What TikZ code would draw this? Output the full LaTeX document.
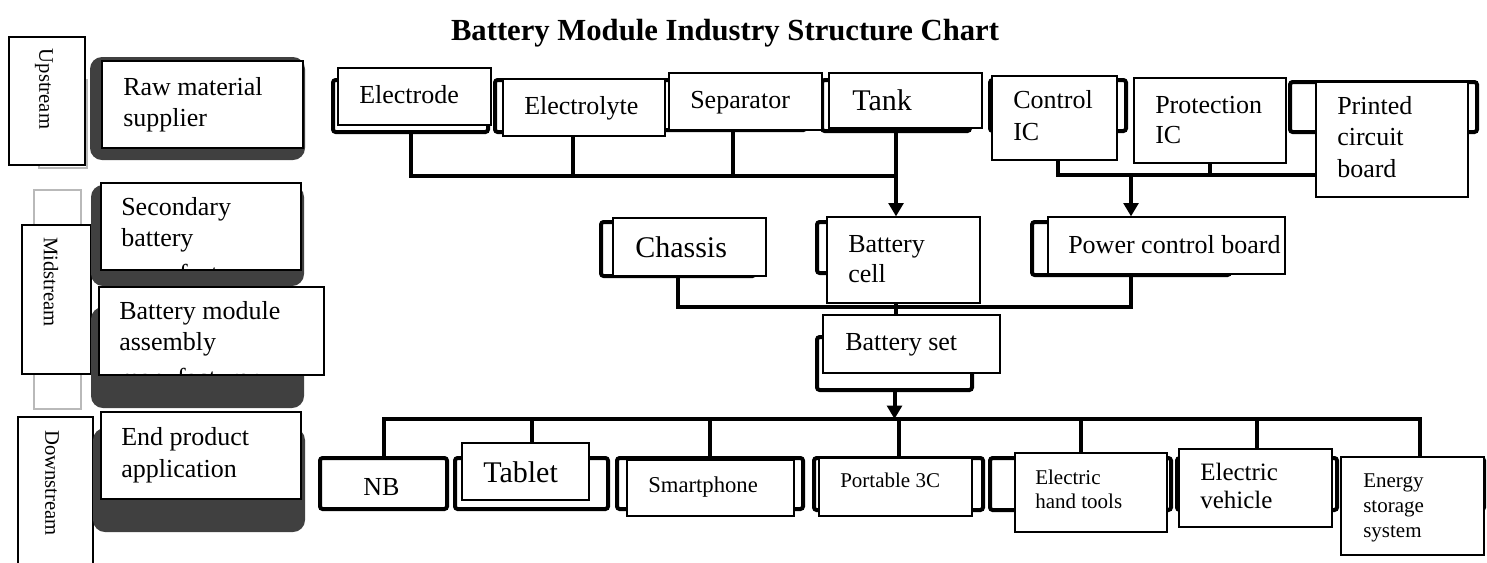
\documentclass[tikz,border=0pt]{standalone}
\usepackage{fontspec}
\setmainfont{Liberation Serif}
\usetikzlibrary{arrows.meta,fit}
\definecolor{dk}{RGB}{64,64,64}
\definecolor{ghostc}{RGB}{185,185,185}
\begin{document}
\begin{tikzpicture}[x=0.75pt,y=-0.75pt,
  dark/.style={fill=dk,draw=none,rounded corners=9pt,inner sep=0pt},
  wbox/.style={draw=black,line width=0.9pt,fill=white,inner sep=0pt},
  ghost/.style={draw=ghostc,line width=1.5pt,inner sep=0pt},
  back/.style={draw=black,line width=3pt,rounded corners=2pt,inner sep=0pt},
  conn/.style={line width=3pt},
  arr/.style={line width=3pt,-{Triangle[length=10pt,width=11pt]}},
  txt/.style={inner sep=0pt,anchor=base west,align=left},
  fmain/.style={font={\fontsize{19.5}{23}\selectfont}},
  fbig/.style={font={\fontsize{22.5}{26}\selectfont}},
  fsmall/.style={font={\fontsize{15.75}{18.5}\selectfont}},
  fstage/.style={font={\fontsize{15.5}{18}\selectfont}},
]
\useasboundingbox (0,0) rectangle (1487,562);

% ---------- title
\node[inner sep=0pt,anchor=base,font={\fontsize{23}{26}\selectfont\bfseries}] (title) at (725,40) {Battery Module Industry Structure Chart};

% ---------- left column: stages
\node[ghost,fit={(39,80) (87,168)}] (upghost) {};
\node[wbox,fit={(9,37) (85,165)}] (upbox) {};
\node[fstage,rotate=-90,inner sep=0pt] (uptxt) at (44,89) {Upstream};

\node[ghost,fit={(34,190) (81,409)}] (midghost) {};
\node[wbox,fit={(22,225) (91,374)}] (midbox) {};
\node[fstage,rotate=-90,inner sep=0pt] (midtxt) at (51,282) {Midstream};

\node[wbox,fit={(18,417) (93,575)}] (downbox) {};
\node[fstage,rotate=-90,inner sep=0pt] (downtxt) at (52,483) {Downstream};

\node[dark,fit={(90,57) (305,160)}] (rawdk) {};
\node[wbox,fit={(102,61) (303,148)}] (raww) {};
\node[txt,fmain] (rawtxt) at (123,126) {Raw material\\supplier};

\node[dark,fit={(91,185) (304,286)}] (secdk) {};
\node[wbox,fit={(101,183) (301,270)}] (secw) {};
\begin{scope}
  \clip (101.5,183.5) rectangle (300.5,269.3);
  \node[txt,fmain] (sectxt) at (121,282) {Secondary\\battery\\[4pt]manufacturer};
\end{scope}

\node[dark,fit={(91,307) (304,408)}] (moddk) {};
\node[wbox,fit={(99,287) (324,375)}] (modw) {};
\begin{scope}
  \clip (99.5,287.5) rectangle (323.5,374.3);
  \node[txt,fmain] (modtxt) at (119,386) {Battery module\\assembly\\[4pt]manufacturer};
\end{scope}

\node[dark,fit={(93,428) (305,532)}] (enddk) {};
\node[wbox,fit={(101,412) (301,499)}] (endw) {};
\node[txt,font={\fontsize{19.5}{24}\selectfont}] (endtxt) at (121,477) {End product\\application};

% ---------- back (thick) boxes
\node[back,fit={(333,80) (488,132)}] (eback) {};
\node[back,fit={(495,80) (651,132)}] (lyteback) {};
\node[back,fit={(660,80) (806,130)}] (sepback) {};
\node[back,fit={(822,80) (970,131)}] (tankback) {};
\node[back,fit={(990,80) (1126,131)}] (ctrlback) {};
\node[back,fit={(1290,82) (1477,132)}] (pcbback) {};

\node[back,fit={(601,222) (755,276)}] (chback) {};
\node[back,fit={(817,222) (975,273)}] (cellback) {};
\node[back,fit={(1032,222) (1230,275)}] (powback) {};
\node[back,fit={(817,337) (972,390)}] (setback) {};

\node[back,fit={(320,458) (447,509)}] (nbback) {};
\node[back,fit={(455,458) (608,509)}] (tabback) {};
\node[back,fit={(617,458) (803,509)}] (phback) {};
\node[back,fit={(814,458) (983,510)}] (portback) {};
\node[back,fit={(990,458) (1171,510)}] (toolback) {};
\node[back,fit={(1177,458) (1337,510)}] (vehback) {};
\node[back,fit={(1356,458) (1484,510)}] (enback) {};

% ---------- white boxes (top & middle)
\node[wbox,fit={(338,68) (491,125)}] (ew) {};
\node[wbox,fit={(503,79) (665,136)}] (lytew) {};
\node[wbox,fit={(669,73) (822,130)}] (sepw) {};
\node[wbox,fit={(829,73) (982,128)}] (tankw) {};
\node[wbox,fit={(992,76) (1117,160)}] (ctrlw) {};
\node[wbox,fit={(1134,78) (1286,163)}] (protw) {};

\node[wbox,fit={(613,218) (766,276)}] (chw) {};
\node[wbox,fit={(827,217) (980,303)}] (cellw) {};
\node[wbox,fit={(1048,217) (1285,274)}] (poww) {};
\node[wbox,fit={(823,315) (1000,373)}] (setw) {};

% ---------- connectors
\coordinate (tbus) at (0,176);
\coordinate (rbus) at (0,175);
\coordinate (mbus) at (0,307);
\coordinate (bbus) at (0,419);

\draw[conn] (eback.south) |- (tankback.south |- tbus);
\draw[conn] (lyteback.south |- lytew.south) -- (lyteback.south |- tbus);
\draw[conn] (sepback.south) -- (sepback.south |- tbus);
\draw[arr] (tankback.south) -- (tankback.south |- cellw.north);

\draw[conn] (ctrlback.south |- ctrlw.south) |- (pcbback.center |- rbus);
\draw[conn] (protw.south) -- (protw.south |- rbus);
\draw[arr] (powback.center |- rbus) -- (powback.center |- poww.north);

\draw[conn] (chback.south) |- (powback.center |- mbus) -- (powback.south);
\draw[conn] (cellback.center |- cellw.south) -- (cellback.center |- setw.north);

\draw[arr] (setback.south) -- (setback.south |- bbus);
\draw[conn] (nbback.north) |- (enback.north |- bbus) -- (enback.north);
\draw[conn] (tabback.north |- bbus) -- (tabback.north);
\draw[conn] (phback.north |- bbus) -- (phback.north);
\draw[conn] (portback.north |- bbus) -- (portback.north);
\draw[conn] (toolback.north |- bbus) -- (toolback.north);
\draw[conn] (vehback.north |- bbus) -- (vehback.north);

% ---------- boxes drawn over connectors
\node[wbox,fit={(1316,82) (1468,197)}] (pcbw) {};
\node[wbox,fit={(462,443) (589,500)}] (tabw) {};
\node[wbox,fit={(627,460) (794,516)}] (phw) {};
\node[wbox,fit={(819,458) (972,516)}] (portw) {};
\node[wbox,fit={(1015,453) (1167,532)}] (toolw) {};
\node[wbox,fit={(1179,449) (1332,527)}] (vehw) {};
\node[wbox,fit={(1341,457) (1484,555)}] (enw) {};

% ---------- labels
\node[txt,fmain] (etxt) at (359,103) {Electrode};
\node[txt,fmain] (lytetxt) at (524,114) {Electrolyte};
\node[txt,fmain] (septxt) at (690,108) {Separator};
\node[txt,fbig] (tanktxt) at (852,110) {Tank};
\node[txt,font={\fontsize{19.5}{24}\selectfont}] (ctrltxt) at (1013,140) {Control\\IC};
\node[txt,font={\fontsize{19.5}{22.5}\selectfont}] (prottxt) at (1155,143) {Protection\\IC};
\node[txt,font={\fontsize{19.5}{23.3}\selectfont}] (pcbtxt) at (1337,177) {Printed\\circuit\\board};

\node[txt,fbig] (chtxt) at (635,257) {Chassis};
\node[txt,font={\fontsize{19.5}{22}\selectfont}] (celltxt) at (848,282) {Battery\\cell};
\node[txt,fmain] (powtxt) at (1068,253) {Power control board};
\node[txt,fmain] (settxt) at (845,350) {Battery set};

\node[txt,fmain] (nbtxt) at (363,495) {NB};
\node[txt,fbig] (tabtxt) at (483,482) {Tablet};
\node[txt,font={\fontsize{17}{20}\selectfont}] (phtxt) at (648,492) {Smartphone};
\node[txt,fsmall] (porttxt) at (840,487) {Portable 3C};
\node[txt,font={\fontsize{15.75}{18}\selectfont}] (tooltxt) at (1035,508) {Electric\\hand tools};
\node[txt,font={\fontsize{18.75}{21}\selectfont}] (vehtxt) at (1200,508) {Electric\\vehicle};
\node[txt,font={\fontsize{15.75}{18.5}\selectfont}] (entxt) at (1363,537) {Energy\\storage\\system};
\end{tikzpicture}
\end{document}
